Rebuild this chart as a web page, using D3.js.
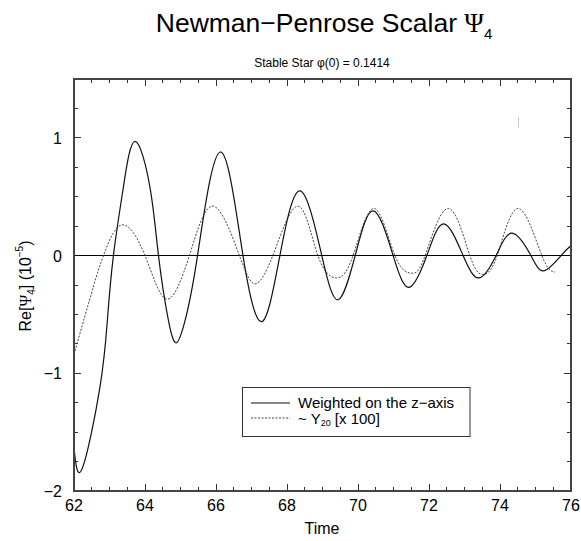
<!DOCTYPE html>
<html><head><meta charset="utf-8">
<script src="https://cdn.jsdelivr.net/npm/d3@7"></script>
<style>
body{margin:0;background:#fff;}
svg{display:block;font-family:"Liberation Sans",Arial,Helvetica,sans-serif;}
</style></head>
<body>
<svg id="chart" width="581" height="541"></svg>
<script>
// ---- data ----
const solidT = [62.00,62.23,62.73,62.94,63.11,63.39,63.72,64.14,64.38,64.66,64.89,65.13,65.48,66.12,66.76,67.30,67.80,68.37,68.98,69.44,69.92,70.43,70.99,71.44,71.94,72.42,72.96,73.41,73.89,74.34,74.87,75.24,75.72,76.00];
const solidV = [-1.63,-1.81,-1.12,-0.55,0.00,0.58,0.97,0.58,0.00,-0.55,-0.74,-0.55,0.00,0.88,0.00,-0.56,0.00,0.55,0.00,-0.375,0.00,0.38,0.00,-0.27,0.00,0.27,0.00,-0.19,0.00,0.19,0.00,-0.13,0.00,0.085];
const dotT = [62.00,62.54,62.83,63.34,64.00,64.61,65.25,65.92,66.66,67.10,67.60,68.31,68.87,69.40,69.86,70.45,71.04,71.52,71.89,72.54,73.15,73.52,73.92,74.51,75.18,75.55];
const dotV = [-0.84,-0.27,0.00,0.26,0.00,-0.37,0.00,0.42,0.00,-0.24,0.00,0.42,0.00,-0.19,0.00,0.40,0.00,-0.15,0.00,0.40,0.00,-0.16,0.00,0.40,0.00,-0.14];
const xTicks = [62,64,66,68,70,72,74,76];
const yTicks = [-2,-1,0,1];
const legendLabels = ["Weighted on the z\u2212axis", "~ Y"];

// ---- layout ----
const svg = d3.select("#chart");
const L = 74, R = 571, T = 79, B = 491;
const x = d3.scaleLinear().domain([62,76]).range([L,R]);
const y = d3.scaleLinear().domain([-2,1.5]).range([B,T]);
const fmt = v => (v<0 ? "\u2212" : "") + Math.abs(v);

// title
const title = svg.append("text").attr("x",324).attr("y",32).attr("text-anchor","middle")
  .attr("font-size",26.5).attr("fill","#000");
title.append("tspan").text("Newman\u2212Penrose Scalar ");
title.append("tspan").attr("font-family","'Liberation Serif','DejaVu Serif',serif").text("\u03A8");
title.append("tspan").attr("font-size",15).attr("dy",7).text("4");
svg.append("text").attr("x",322).attr("y",67).attr("text-anchor","middle")
  .attr("font-size",12).text("Stable Star \u03C6(0) = 0.1414");

// ticks
const g = svg.append("g").attr("stroke","#333").attr("stroke-width",1).attr("shape-rendering","crispEdges");
const xMinor = d3.range(62,76.001,0.5);
xMinor.forEach(t=>{
  const major = Math.abs(t%2)<1e-9;
  const len = major?7:4;
  g.append("line").attr("x1",x(t)).attr("x2",x(t)).attr("y1",B).attr("y2",B-len);
  g.append("line").attr("x1",x(t)).attr("x2",x(t)).attr("y1",T).attr("y2",T+len);
});
const yMinor = d3.range(-2,1.5001,0.25);
yMinor.forEach(v=>{
  const major = Math.abs(v-Math.round(v))<1e-9;
  const len = major?7:4;
  g.append("line").attr("y1",y(v)).attr("y2",y(v)).attr("x1",L).attr("x2",L+len);
  g.append("line").attr("y1",y(v)).attr("y2",y(v)).attr("x1",R).attr("x2",R-len);
});

// tick labels
svg.append("g").selectAll("text").data(xTicks).join("text")
  .attr("x",d=>x(d)).attr("y",511).attr("text-anchor","middle").attr("font-size",16).text(d=>d);
svg.append("g").selectAll("text").data(yTicks).join("text")
  .attr("x",62).attr("y",d=>y(d)+6).attr("text-anchor","end").attr("font-size",16).text(fmt);

// axis titles
svg.append("text").attr("x",322).attr("y",534).attr("text-anchor","middle").attr("font-size",16).text("Time");
const yl = svg.append("text").attr("transform","translate(31,286) rotate(-90)").attr("text-anchor","middle").attr("font-size",16);
yl.append("tspan").text("Re[");
yl.append("tspan").attr("font-family","'Liberation Serif','DejaVu Serif',serif").text("\u03A8");
yl.append("tspan").attr("font-size",10).attr("dy",4).text("4");
yl.append("tspan").attr("dy",-4).text("] (10");
yl.append("tspan").attr("font-size",10).attr("dy",-8).text("\u22125");
yl.append("tspan").attr("dy",8).text(")");

// zero line
svg.append("line").attr("x1",L).attr("x2",R).attr("y1",y(0)).attr("y2",y(0))
  .attr("stroke","#000").attr("stroke-width",1.2).attr("shape-rendering","crispEdges");

// curves
const line = d3.line().x(d=>x(d[0])).y(d=>y(d[1])).curve(d3.curveNatural);
const solid = solidT.map((t,i)=>[t,solidV[i]]);
const dotted = dotT.map((t,i)=>[t,dotV[i]]);
svg.append("path").datum(dotted).attr("d",line).attr("fill","none")
  .attr("stroke","#444").attr("stroke-width",1).attr("stroke-dasharray","2,1.5");
svg.append("path").datum(solid).attr("d",line).attr("fill","none")
  .attr("stroke","#111").attr("stroke-width",1.2);

// small stray mark in the reference
svg.append("line").attr("x1",518.5).attr("x2",518.5).attr("y1",117).attr("y2",128)
  .attr("stroke","#ccc").attr("stroke-width",1);

// frame
svg.append("rect").attr("x",L).attr("y",T).attr("width",R-L).attr("height",B-T)
  .attr("fill","none").attr("stroke","#444").attr("stroke-width",1.2).attr("shape-rendering","crispEdges");

// legend
const lg = svg.append("g");
lg.append("rect").attr("x",242.5).attr("y",387.5).attr("width",227.5).attr("height",49)
  .attr("fill","#fff").attr("stroke","#333").attr("stroke-width",1);
lg.append("line").attr("x1",251).attr("x2",290).attr("y1",403).attr("y2",403).attr("stroke","#111").attr("stroke-width",1);
lg.append("line").attr("x1",251).attr("x2",290).attr("y1",418).attr("y2",418).attr("stroke","#444").attr("stroke-dasharray","2,1.5").attr("stroke-width",1);
lg.append("text").attr("x",298).attr("y",408).attr("font-size",15).text(legendLabels[0]);
const l2 = lg.append("text").attr("x",298).attr("y",424).attr("font-size",15);
l2.append("tspan").text(legendLabels[1]);
l2.append("tspan").attr("font-size",9).attr("dy",2).text("20");
l2.append("tspan").attr("dy",-2).text(" [x 100]");
</script>
</body></html>
